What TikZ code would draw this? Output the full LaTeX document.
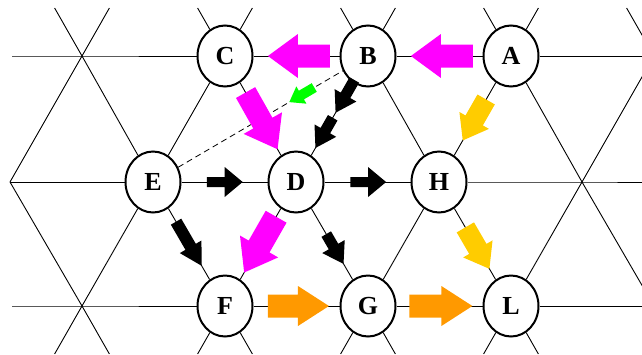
\documentclass[tikz,border=0pt]{standalone}
\usepackage{fontspec}
\setmainfont{Liberation Serif}
\usetikzlibrary{calc,shapes.geometric}
\definecolor{mag}{HTML}{FF00FF}
\definecolor{grn}{HTML}{00FF00}
\definecolor{ylw}{HTML}{FFCC00}
\definecolor{org}{HTML}{FF9900}
% #1 colour, #2 from, #3 to, #4 t tail, #5 t tip, #6 half shaft, #7 half head, #8 head length
\newcommand\blockarr[8]{%
  \path ($(#2)!#4!(#3)$) coordinate (ba-t) ($(#2)!#5!(#3)$) coordinate (ba-h);
  \path ($(ba-h)!#8!(ba-t)$) coordinate (ba-b);
  \fill[#1] ($(ba-t)!#6!90:(ba-h)$) -- ($(ba-b)!#6!-90:(ba-t)$) -- ($(ba-b)!#7!-90:(ba-t)$)
    -- (ba-h) -- ($(ba-b)!#7!90:(ba-t)$) -- ($(ba-b)!#6!90:(ba-t)$) -- ($(ba-t)!#6!-90:(ba-h)$) -- cycle;
}
\begin{document}
\begin{tikzpicture}[x=1pt,y=-1pt,
  lat/.style={line width=0.9pt},
  vert/.style={ellipse, draw, line width=2pt, fill=white, minimum width=55pt,
    minimum height=61pt, inner sep=0pt, font=\fontsize{26}{30}\selectfont\bfseries},
  dashedge/.style={line width=0.8pt, dash pattern=on 6pt off 4pt}]
\useasboundingbox (0,0) rectangle (642,354);
% nodes
\node[vert] (C) at (225,56) {C};
\node[vert] (B) at (368,56) {B};
\node[vert] (A) at (511,56) {A};
\node[vert] (E) at (153,182) {E};
\node[vert] (D) at (296,182) {D};
\node[vert] (H) at (439,182) {H};
\node[vert] (F) at (225,306) {F};
\node[vert] (G) at (368,306) {G};
\node[vert] (L) at (511,306) {L};
% lattice points without nodes
\coordinate (p1a) at (82,56);
\coordinate (p1e) at (654,56);
\coordinate (p2a) at (10,182);
\coordinate (p2e) at (582,182);
\coordinate (p3a) at (82,306);
\coordinate (p3e) at (654,306);
\coordinate (l1) at (12,56);
\coordinate (l3) at (12,306);
% top stubs
\coordinate (s1) at (54.6,8);   \coordinate (s2) at (109.4,8);
\coordinate (s3) at (197.6,8);  \coordinate (s4) at (252.4,8);
\coordinate (s5) at (340.6,8);  \coordinate (s6) at (395.4,8);
\coordinate (s7) at (483.6,8);  \coordinate (s8) at (538.4,8);
\coordinate (s9) at (626.6,8);
% bottom stubs
\coordinate (b1) at (54.6,354);  \coordinate (b2) at (109.4,354);
\coordinate (b3) at (197.6,354); \coordinate (b4) at (252.4,354);
\coordinate (b5) at (340.6,354); \coordinate (b6) at (395.4,354);
\coordinate (b7) at (483.6,354); \coordinate (b8) at (538.4,354);
% horizontal lines
\draw[lat] (l1) -- (p1a) -- (C);
\draw[lat] (C) -- (B);
\draw[lat] (B) -- (A);
\draw[lat] (A) -- (p1e);
\draw[lat] (p2a) -- (E);
\draw[lat] (E) -- (D);
\draw[lat] (D) -- (H);
\draw[lat] (H) -- (p2e) -- (p3e |- p2e);
\draw[lat] (l3) -- (p3a) -- (F);
\draw[lat] (F) -- (G);
\draw[lat] (G) -- (L);
\draw[lat] (L) -- (p3e);
% diagonals between rows 1 and 2
\draw[lat] (p1a) -- (p2a);
\draw[lat] (p1a) -- (E);
\draw[lat] (C) -- (E);
\draw[lat] (C) -- (D);
\draw[lat] (B) -- (D);
\draw[lat] (B) -- (H);
\draw[lat] (A) -- (H);
\draw[lat] (A) -- (p2e);
\draw[lat] (p1e) -- (p2e);
% diagonals between rows 2 and 3
\draw[lat] (p2a) -- (p3a);
\draw[lat] (E) -- (p3a);
\draw[lat] (E) -- (F);
\draw[lat] (D) -- (F);
\draw[lat] (D) -- (G);
\draw[lat] (H) -- (G);
\draw[lat] (H) -- (L);
\draw[lat] (p2e) -- (L);
\draw[lat] (p2e) -- (p3e);
% stubs
\draw[lat] (s1) -- (p1a) -- (s2);
\draw[lat] (s3) -- (C);
\draw[lat] (s4) -- (C);
\draw[lat] (s5) -- (B);
\draw[lat] (s6) -- (B);
\draw[lat] (s7) -- (A);
\draw[lat] (s8) -- (A);
\draw[lat] (s9) -- (p1e);
\draw[lat] (b1) -- (p3a) -- (b2);
\draw[lat] (b3) -- (F);
\draw[lat] (b4) -- (F);
\draw[lat] (b5) -- (G);
\draw[lat] (b6) -- (G);
\draw[lat] (b7) -- (L);
\draw[lat] (b8) -- (L);
% dashed connector
\draw[dashedge] (E) -- (B);
% block arrows
\blockarr{mag}{A}{B}{0.266}{0.70}{11.5pt}{22pt}{30pt}
\blockarr{mag}{B}{C}{0.266}{0.70}{11.5pt}{22pt}{30pt}
\blockarr{mag}{C}{D}{0.29}{0.74}{11pt}{22pt}{30pt}
\blockarr{mag}{D}{F}{0.28}{0.73}{12pt}{22pt}{30pt}
\blockarr{org}{F}{G}{0.30}{0.727}{11.5pt}{20pt}{31pt}
\blockarr{org}{G}{L}{0.29}{0.73}{11.5pt}{20pt}{31pt}
\blockarr{ylw}{A}{H}{0.345}{0.67}{10pt}{17pt}{23pt}
\blockarr{ylw}{H}{L}{0.366}{0.70}{10pt}{17pt}{23pt}
\blockarr{black}{E}{D}{0.376}{0.627}{5pt}{15pt}{18pt}
\blockarr{black}{D}{H}{0.38}{0.63}{5pt}{15pt}{18pt}
\blockarr{black}{E}{F}{0.32}{0.676}{6pt}{12.5pt}{22pt}
\blockarr{black}{D}{G}{0.42}{0.66}{5.5pt}{13pt}{20pt}
\blockarr{black}{B}{D}{0.19}{0.45}{5.5pt}{12.5pt}{20pt}
\blockarr{black}{B}{D}{0.49}{0.73}{5.5pt}{12.5pt}{20pt}
\blockarr{grn}{B}{E}{0.25}{0.366}{5pt}{10pt}{14pt}
\end{tikzpicture}
\end{document}
